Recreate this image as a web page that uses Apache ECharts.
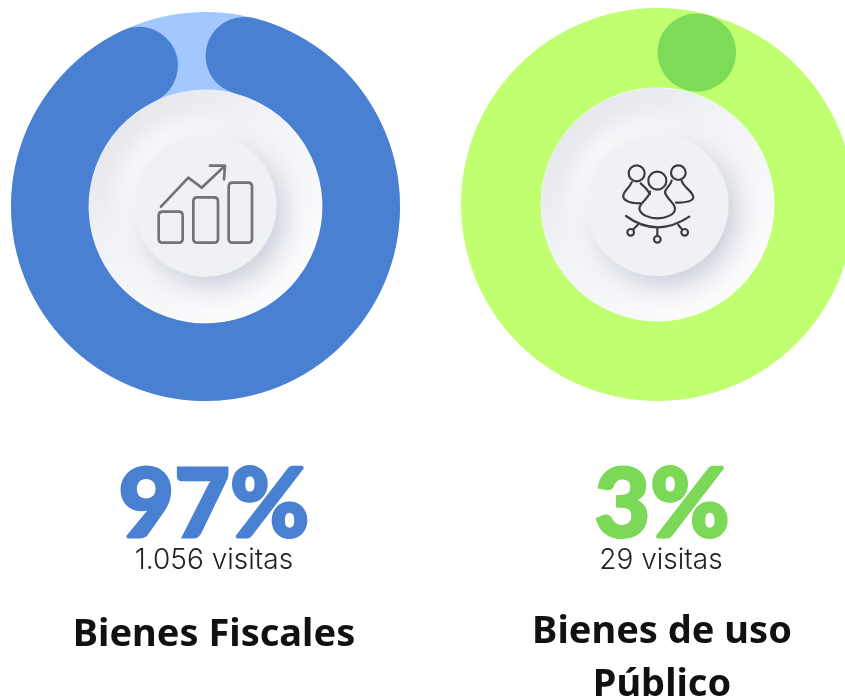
<!DOCTYPE html>
<html><head><meta charset="utf-8">
<style>html,body{margin:0;padding:0;background:#fff}#c{width:845px;height:700px}</style>
<script src="https://cdn.jsdelivr.net/npm/echarts@6/dist/echarts.min.js"></script>
</head><body><div id="c"></div>
<script>
const categories = ['Bienes Fiscales', 'Bienes de uso\nPúblico'];
const shares = [97, 3];
const rest = [3, 97];
const visits = ['1.056 visitas', '29 visitas'];
const strong = ['#4A80D2', '#7EDB58'];
const pale = ['#A2C8FF', '#BFFF70'];
const textColor = ['#4A80D2', '#7CD857'];

const chart = echarts.init(document.getElementById('c'));
const plateGrad = () => new echarts.graphic.LinearGradient(0.15, 0.1, 0.85, 0.9, [
  {offset: 0, color: '#E5E7ED'}, {offset: 0.4, color: '#F2F3F7'}, {offset: 1, color: '#FDFDFE'}]);
function plate(cx, cy) {
  return [
    {type:'circle', z:1, shape:{cx, cy, r:117}, style:{fill:plateGrad()}, silent:true},
    {type:'circle', z:2, shape:{cx, cy, r:72}, style:{fill:'#FFFFFF', shadowBlur:24, shadowOffsetX:-10, shadowOffsetY:-10, shadowColor:'rgba(255,255,255,1)'}, silent:true},
    {type:'circle', z:3, shape:{cx, cy, r:71}, style:{fill:'#EFF1F5', shadowBlur:28, shadowOffsetX:8, shadowOffsetY:9, shadowColor:'rgba(150,155,180,0.5)'}, silent:true}
  ];
}
echarts.graphic.registerShape('iconBars', echarts.graphic.extendPath(
  'M63 170L145 83L185 113L250 52M210 47L255 47L252 88M68 185H116Q128 185 128 197V266Q128 278 116 278H68Q56 278 56 266V197Q56 185 68 185ZM172 142H222Q234 142 234 154V266Q234 278 222 278H172Q160 278 160 266V154Q160 142 172 142ZM278 98H324Q336 98 336 110V266Q336 278 324 278H278Q266 278 266 266V110Q266 98 278 98Z', {}));
const people = 'M134 70A24 24 0 1 1 86 70A24 24 0 1 1 134 70Z'+
 'M199 92A27 27 0 1 1 145 92A27 27 0 1 1 199 92Z'+
 'M257 68A22 22 0 1 1 213 68A22 22 0 1 1 257 68Z'+
 'M95 97C88 115 66 125 70 142C75 155 100 160 122 160M122 100C132 108 142 118 150 132'+
 'M150 125C148 145 118 158 118 176C120 195 150 205 172 205C195 205 225 195 225 176C225 158 196 145 195 125'+
 'M215 92C210 110 192 118 195 130M245 92C250 112 280 125 280 142C278 155 250 158 228 158'+
 'M78 198Q170 265 268 200M172 232V258M113 225L100 238M235 225L246 238'+
 'M102 247A10 10 0 1 1 82 247A10 10 0 1 1 102 247Z'+
 'M182 268A10 10 0 1 1 162 268A10 10 0 1 1 182 268Z'+
 'M264 247A10 10 0 1 1 244 247A10 10 0 1 1 264 247Z';
echarts.graphic.registerShape('iconPeople', echarts.graphic.extendPath(people, {}));
const base = {z:5, silent:true};
const iconChart = {...base, type:'iconBars', x:140, y:150, scaleX:1/3, scaleY:1/3,
  style:{fill:null, stroke:'#737373', lineWidth:8, lineJoin:'round', lineCap:'round'}};
const iconPeople = {...base, type:'iconPeople', x:600, y:150, scaleX:1/3, scaleY:1/3,
  style:{fill:null, stroke:'#3A3C3F', lineWidth:6.5, lineJoin:'round', lineCap:'round'}};

const bigFont = {fontFamily:'Lato', fontWeight:900, fontSize:96, lineWidth:3};
const subFont = {fontFamily:'Inter', fontWeight:300, fontSize:28, fill:'#222'};
const nameFont = {fontFamily:'Noto Sans', fontWeight:700, fontSize:38, fill:'#111', lineHeight:53, align:'center', verticalAlign:'top'};
function text(x, y, s, st) {
  return {type:'text', z:6, x, y, silent:true, style:{text:s, align:'center', verticalAlign:'middle', ...st}};
}
const graphics = [
  ...plate(205.5, 205.5), ...plate(657.5, 205),
  iconChart, iconPeople,
  text(214, 506, shares[0]+'%', {...bigFont, fill:textColor[0], stroke:textColor[0]}),
  text(662, 506, shares[1]+'%', {...bigFont, fill:textColor[1], stroke:textColor[1]}),
  text(214, 561, visits[0], subFont),
  text(661, 561, visits[1], subFont),
  {type:'text', z:6, x:214, y:609, silent:true, style:{text:categories[0], ...nameFont}},
  {type:'text', z:6, x:662, y:606, silent:true, style:{text:categories[1], ...nameFont}}
];

function common(center, radius) {
  return {type:'pie', center, radius, silent:true, animation:false, clockwise:true, startAngle:90,
    label:{show:false}, labelLine:{show:false}, avoidLabelOverlap:false, stillShowZeroSum:true};
}
chart.setOption({
  animation:false,
  backgroundColor:'#fff',
  series:[
    {...common([205.5,206.5],[117,194.5]), z:1, data:[{value:shares[0]+rest[0], itemStyle:{color:pale[0]}}]},
    {...common([205.5,206.5],[117,194.5]), z:2, data:[
      {value:shares[0], itemStyle:{color:strong[0], borderRadius:39}},
      {value:rest[0], itemStyle:{color:'rgba(0,0,0,0)'}}]},
    {...common([657.5,204.5],[117,196.5]), z:1, data:[{value:shares[1]+rest[1], itemStyle:{color:pale[1]}}]},
    {...common([657.5,204.5],[118,196]), z:2, minAngle:29, data:[
      {value:shares[1], itemStyle:{color:strong[1], borderRadius:39}},
      {value:rest[1], itemStyle:{color:'rgba(0,0,0,0)'}}]}
  ],
  graphic:graphics
});
</script></body></html>
